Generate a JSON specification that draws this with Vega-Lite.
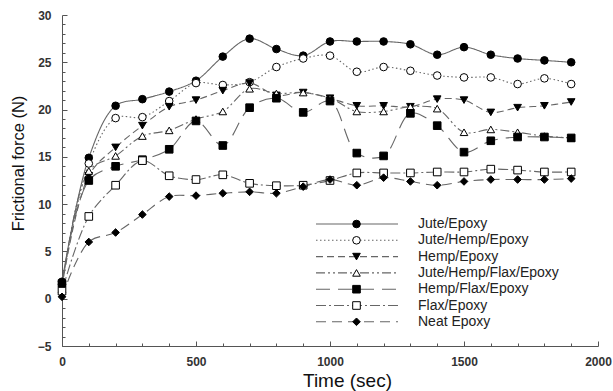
{
 "$schema": "https://vega.github.io/schema/vega-lite/v6.json",
 "width": 536, "height": 331,
 "autosize": "none",
 "padding": {"left": 62, "top": 15, "right": 15, "bottom": 45},
 "background": "white",
 "config": {"view": {"stroke": null}, "font": "Liberation Sans"},
 "datasets": {
  "raw": [
   {"s":"Jute/Epoxy","o":1,"t":0,"f":1.8},{"s":"Jute/Epoxy","o":1,"t":100,"f":14.9},{"s":"Jute/Epoxy","o":1,"t":200,"f":20.4},{"s":"Jute/Epoxy","o":1,"t":300,"f":21.1},{"s":"Jute/Epoxy","o":1,"t":400,"f":21.9},{"s":"Jute/Epoxy","o":1,"t":500,"f":23.05},{"s":"Jute/Epoxy","o":1,"t":600,"f":25.6},{"s":"Jute/Epoxy","o":1,"t":700,"f":27.5},{"s":"Jute/Epoxy","o":1,"t":800,"f":26.4},{"s":"Jute/Epoxy","o":1,"t":900,"f":25.7},{"s":"Jute/Epoxy","o":1,"t":1000,"f":27.2},{"s":"Jute/Epoxy","o":1,"t":1100,"f":27.2},{"s":"Jute/Epoxy","o":1,"t":1200,"f":27.2},{"s":"Jute/Epoxy","o":1,"t":1300,"f":26.9},{"s":"Jute/Epoxy","o":1,"t":1400,"f":25.8},{"s":"Jute/Epoxy","o":1,"t":1500,"f":26.6},{"s":"Jute/Epoxy","o":1,"t":1600,"f":25.8},{"s":"Jute/Epoxy","o":1,"t":1700,"f":25.4},{"s":"Jute/Epoxy","o":1,"t":1800,"f":25.2},{"s":"Jute/Epoxy","o":1,"t":1900,"f":25.0},
   {"s":"Jute/Hemp/Epoxy","o":2,"t":0,"f":1.5},{"s":"Jute/Hemp/Epoxy","o":2,"t":100,"f":14.3},{"s":"Jute/Hemp/Epoxy","o":2,"t":200,"f":19.1},{"s":"Jute/Hemp/Epoxy","o":2,"t":300,"f":19.2},{"s":"Jute/Hemp/Epoxy","o":2,"t":400,"f":20.9},{"s":"Jute/Hemp/Epoxy","o":2,"t":500,"f":22.8},{"s":"Jute/Hemp/Epoxy","o":2,"t":600,"f":22.6},{"s":"Jute/Hemp/Epoxy","o":2,"t":700,"f":22.9},{"s":"Jute/Hemp/Epoxy","o":2,"t":800,"f":24.5},{"s":"Jute/Hemp/Epoxy","o":2,"t":900,"f":25.4},{"s":"Jute/Hemp/Epoxy","o":2,"t":1000,"f":25.7},{"s":"Jute/Hemp/Epoxy","o":2,"t":1100,"f":24.0},{"s":"Jute/Hemp/Epoxy","o":2,"t":1200,"f":24.5},{"s":"Jute/Hemp/Epoxy","o":2,"t":1300,"f":24.1},{"s":"Jute/Hemp/Epoxy","o":2,"t":1400,"f":23.6},{"s":"Jute/Hemp/Epoxy","o":2,"t":1500,"f":23.4},{"s":"Jute/Hemp/Epoxy","o":2,"t":1600,"f":23.4},{"s":"Jute/Hemp/Epoxy","o":2,"t":1700,"f":22.7},{"s":"Jute/Hemp/Epoxy","o":2,"t":1800,"f":23.3},{"s":"Jute/Hemp/Epoxy","o":2,"t":1900,"f":22.7},
   {"s":"Hemp/Epoxy","o":3,"t":0,"f":1.3},{"s":"Hemp/Epoxy","o":3,"t":100,"f":13.0},{"s":"Hemp/Epoxy","o":3,"t":200,"f":16.0},{"s":"Hemp/Epoxy","o":3,"t":300,"f":18.3},{"s":"Hemp/Epoxy","o":3,"t":400,"f":20.3},{"s":"Hemp/Epoxy","o":3,"t":500,"f":21.0},{"s":"Hemp/Epoxy","o":3,"t":600,"f":22.0},{"s":"Hemp/Epoxy","o":3,"t":700,"f":22.8},{"s":"Hemp/Epoxy","o":3,"t":800,"f":21.5},{"s":"Hemp/Epoxy","o":3,"t":900,"f":21.8},{"s":"Hemp/Epoxy","o":3,"t":1000,"f":21.2},{"s":"Hemp/Epoxy","o":3,"t":1100,"f":20.4},{"s":"Hemp/Epoxy","o":3,"t":1200,"f":20.4},{"s":"Hemp/Epoxy","o":3,"t":1300,"f":20.3},{"s":"Hemp/Epoxy","o":3,"t":1400,"f":21.1},{"s":"Hemp/Epoxy","o":3,"t":1500,"f":21.0},{"s":"Hemp/Epoxy","o":3,"t":1600,"f":19.7},{"s":"Hemp/Epoxy","o":3,"t":1700,"f":20.2},{"s":"Hemp/Epoxy","o":3,"t":1800,"f":20.4},{"s":"Hemp/Epoxy","o":3,"t":1900,"f":20.8},
   {"s":"Jute/Hemp/Flax/Epoxy","o":4,"t":0,"f":1.0},{"s":"Jute/Hemp/Flax/Epoxy","o":4,"t":100,"f":13.5},{"s":"Jute/Hemp/Flax/Epoxy","o":4,"t":200,"f":15.1},{"s":"Jute/Hemp/Flax/Epoxy","o":4,"t":300,"f":17.2},{"s":"Jute/Hemp/Flax/Epoxy","o":4,"t":400,"f":17.8},{"s":"Jute/Hemp/Flax/Epoxy","o":4,"t":500,"f":19.0},{"s":"Jute/Hemp/Flax/Epoxy","o":4,"t":600,"f":19.8},{"s":"Jute/Hemp/Flax/Epoxy","o":4,"t":700,"f":22.2},{"s":"Jute/Hemp/Flax/Epoxy","o":4,"t":800,"f":21.7},{"s":"Jute/Hemp/Flax/Epoxy","o":4,"t":900,"f":21.8},{"s":"Jute/Hemp/Flax/Epoxy","o":4,"t":1000,"f":21.2},{"s":"Jute/Hemp/Flax/Epoxy","o":4,"t":1100,"f":19.8},{"s":"Jute/Hemp/Flax/Epoxy","o":4,"t":1200,"f":19.8},{"s":"Jute/Hemp/Flax/Epoxy","o":4,"t":1300,"f":20.3},{"s":"Jute/Hemp/Flax/Epoxy","o":4,"t":1400,"f":20.1},{"s":"Jute/Hemp/Flax/Epoxy","o":4,"t":1500,"f":17.6},{"s":"Jute/Hemp/Flax/Epoxy","o":4,"t":1600,"f":17.9},{"s":"Jute/Hemp/Flax/Epoxy","o":4,"t":1700,"f":17.6},{"s":"Jute/Hemp/Flax/Epoxy","o":4,"t":1800,"f":17.2},{"s":"Jute/Hemp/Flax/Epoxy","o":4,"t":1900,"f":17.0},
   {"s":"Hemp/Flax/Epoxy","o":5,"t":0,"f":1.6},{"s":"Hemp/Flax/Epoxy","o":5,"t":100,"f":12.5},{"s":"Hemp/Flax/Epoxy","o":5,"t":200,"f":14.0},{"s":"Hemp/Flax/Epoxy","o":5,"t":300,"f":14.7},{"s":"Hemp/Flax/Epoxy","o":5,"t":400,"f":15.8},{"s":"Hemp/Flax/Epoxy","o":5,"t":500,"f":18.8},{"s":"Hemp/Flax/Epoxy","o":5,"t":600,"f":16.2},{"s":"Hemp/Flax/Epoxy","o":5,"t":700,"f":20.2},{"s":"Hemp/Flax/Epoxy","o":5,"t":800,"f":21.2},{"s":"Hemp/Flax/Epoxy","o":5,"t":900,"f":19.7},{"s":"Hemp/Flax/Epoxy","o":5,"t":1000,"f":20.9},{"s":"Hemp/Flax/Epoxy","o":5,"t":1100,"f":15.4},{"s":"Hemp/Flax/Epoxy","o":5,"t":1200,"f":15.1},{"s":"Hemp/Flax/Epoxy","o":5,"t":1300,"f":19.6},{"s":"Hemp/Flax/Epoxy","o":5,"t":1400,"f":18.3},{"s":"Hemp/Flax/Epoxy","o":5,"t":1500,"f":15.5},{"s":"Hemp/Flax/Epoxy","o":5,"t":1600,"f":16.7},{"s":"Hemp/Flax/Epoxy","o":5,"t":1700,"f":17.1},{"s":"Hemp/Flax/Epoxy","o":5,"t":1800,"f":17.1},{"s":"Hemp/Flax/Epoxy","o":5,"t":1900,"f":17.0},
   {"s":"Flax/Epoxy","o":6,"t":0,"f":0.8},{"s":"Flax/Epoxy","o":6,"t":100,"f":8.7},{"s":"Flax/Epoxy","o":6,"t":200,"f":12.0},{"s":"Flax/Epoxy","o":6,"t":300,"f":14.6},{"s":"Flax/Epoxy","o":6,"t":400,"f":13.0},{"s":"Flax/Epoxy","o":6,"t":500,"f":12.6},{"s":"Flax/Epoxy","o":6,"t":600,"f":13.1},{"s":"Flax/Epoxy","o":6,"t":700,"f":12.2},{"s":"Flax/Epoxy","o":6,"t":800,"f":11.95},{"s":"Flax/Epoxy","o":6,"t":900,"f":12.0},{"s":"Flax/Epoxy","o":6,"t":1000,"f":12.5},{"s":"Flax/Epoxy","o":6,"t":1100,"f":13.3},{"s":"Flax/Epoxy","o":6,"t":1200,"f":13.3},{"s":"Flax/Epoxy","o":6,"t":1300,"f":13.3},{"s":"Flax/Epoxy","o":6,"t":1400,"f":13.4},{"s":"Flax/Epoxy","o":6,"t":1500,"f":13.4},{"s":"Flax/Epoxy","o":6,"t":1600,"f":13.7},{"s":"Flax/Epoxy","o":6,"t":1700,"f":13.6},{"s":"Flax/Epoxy","o":6,"t":1800,"f":13.4},{"s":"Flax/Epoxy","o":6,"t":1900,"f":13.4},
   {"s":"Neat Epoxy","o":7,"t":0,"f":0.2},{"s":"Neat Epoxy","o":7,"t":100,"f":6.0},{"s":"Neat Epoxy","o":7,"t":200,"f":7.0},{"s":"Neat Epoxy","o":7,"t":300,"f":8.9},{"s":"Neat Epoxy","o":7,"t":400,"f":10.8},{"s":"Neat Epoxy","o":7,"t":500,"f":10.9},{"s":"Neat Epoxy","o":7,"t":600,"f":11.15},{"s":"Neat Epoxy","o":7,"t":700,"f":11.3},{"s":"Neat Epoxy","o":7,"t":800,"f":11.15},{"s":"Neat Epoxy","o":7,"t":900,"f":11.85},{"s":"Neat Epoxy","o":7,"t":1000,"f":12.6},{"s":"Neat Epoxy","o":7,"t":1100,"f":12.0},{"s":"Neat Epoxy","o":7,"t":1200,"f":12.8},{"s":"Neat Epoxy","o":7,"t":1300,"f":12.4},{"s":"Neat Epoxy","o":7,"t":1400,"f":12.0},{"s":"Neat Epoxy","o":7,"t":1500,"f":12.4},{"s":"Neat Epoxy","o":7,"t":1600,"f":12.6},{"s":"Neat Epoxy","o":7,"t":1700,"f":12.6},{"s":"Neat Epoxy","o":7,"t":1800,"f":12.6},{"s":"Neat Epoxy","o":7,"t":1900,"f":12.7}
  ]
 },
 "data": {"name": "raw"},
 "encoding": {
  "x": {"field": "t", "type": "quantitative",
   "scale": {"domain": [0, 2000], "nice": false, "zero": false},
   "axis": {"values": [0,100,200,300,400,500,600,700,800,900,1000,1100,1200,1300,1400,1500,1600,1700,1800,1900,2000],
    "format": "d", "labelExpr": "datum.value % 500 === 0 ? datum.label : ''",
    "grid": false, "domainColor": "#555", "tickColor": "#555", "domainWidth": 1, "tickWidth": 1,
    "tickSize": {"condition": {"test": "datum.value % 500 === 0", "value": -5}, "value": -3},
    "labelFontSize": 12, "labelFontWeight": "bold", "labelColor": "#333", "labelPadding": 15,
    "labelFlush": false, "labelOverlap": false,
    "title": "Time (sec)", "titleFontSize": 19, "titleFontWeight": "normal", "titleColor": "#111",
    "titleX": 285, "titleY": 34, "titleBaseline": "middle", "titleAnchor": null}},
  "y": {"field": "f", "type": "quantitative",
   "scale": {"domain": [-5, 30], "nice": false, "zero": false},
   "axis": {"values": [-5,-4,-3,-2,-1,0,1,2,3,4,5,6,7,8,9,10,11,12,13,14,15,16,17,18,19,20,21,22,23,24,25,26,27,28,29,30],
    "format": "d", "labelExpr": "datum.value % 5 === 0 ? datum.label : ''",
    "grid": false, "domainColor": "#555", "tickColor": "#555", "domainWidth": 1, "tickWidth": 1,
    "tickSize": {"condition": {"test": "datum.value % 5 === 0", "value": -5}, "value": -3},
    "labelFontSize": 12, "labelFontWeight": "bold", "labelColor": "#333", "labelPadding": 16,
    "labelFlush": false, "labelOverlap": false,
    "title": "Frictional force (N)", "titleFontSize": 16.5, "titleFontWeight": "normal", "titleColor": "#111",
    "titleX": -44, "titleY": 148, "titleBaseline": "middle", "titleAngle": -90}}
 },
 "layer": [
  {"mark": {"type": "line", "interpolate": "catmull-rom", "color": "#666", "strokeWidth": 1.1},
   "encoding": {
    "strokeDash": {"field": "s", "type": "nominal", "sort": {"field": "o", "op": "min"},
     "scale": {"range": [[1,0],[1.5,2.5],[7,4],[9,3,2,3,2,3],[14,8],[10,3,2,3],[10,6]]},
     "legend": {"orient": "none", "legendX": 253, "legendY": 201, "title": null, "symbolType": "stroke",
      "symbolSize": 6724, "symbolStrokeColor": "#666", "symbolStrokeWidth": 1.1, "clipHeight": 16, "rowPadding": 0.3,
      "labelFontSize": 14, "labelColor": "#222", "labelOffset": 19, "padding": 0, "labelLimit": 300}}
   }},
  {"mark": {"type": "point", "filled": false, "strokeWidth": 1, "size": 58, "opacity": 1},
   "encoding": {
    "shape": {"field": "s", "type": "nominal",
     "scale": {"domain": ["Jute/Epoxy","Jute/Hemp/Epoxy","Hemp/Epoxy","Jute/Hemp/Flax/Epoxy","Hemp/Flax/Epoxy","Flax/Epoxy","Neat Epoxy"],
      "range": ["circle","circle","triangle-down","triangle-up","square","square","diamond"]},
     "legend": {"orient": "none", "legendX": 253, "legendY": 201, "title": null, "clipHeight": 16, "rowPadding": 0.3,
      "labelFontSize": 14, "labelExpr": "''", "symbolOffset": 34.5, "symbolSize": 58,
      "symbolStrokeWidth": 1, "padding": 0}},
    "fill": {"field": "s", "type": "nominal",
     "scale": {"domain": ["Jute/Epoxy","Jute/Hemp/Epoxy","Hemp/Epoxy","Jute/Hemp/Flax/Epoxy","Hemp/Flax/Epoxy","Flax/Epoxy","Neat Epoxy"],
      "range": ["black","white","black","white","black","white","black"]},
     "legend": {"orient": "none", "legendX": 253, "legendY": 201, "title": null, "clipHeight": 16, "rowPadding": 0.3,
      "labelFontSize": 14, "labelExpr": "''", "symbolOffset": 34.5, "symbolSize": 58,
      "symbolStrokeWidth": 1, "padding": 0}},
    "stroke": {"field": "s", "type": "nominal",
     "scale": {"domain": ["Jute/Epoxy","Jute/Hemp/Epoxy","Hemp/Epoxy","Jute/Hemp/Flax/Epoxy","Hemp/Flax/Epoxy","Flax/Epoxy","Neat Epoxy"],
      "range": ["black","black","black","black","black","black","black"]},
     "legend": {"orient": "none", "legendX": 253, "legendY": 201, "title": null, "clipHeight": 16, "rowPadding": 0.3,
      "labelFontSize": 14, "labelExpr": "''", "symbolOffset": 34.5, "symbolSize": 58,
      "symbolStrokeWidth": 1, "padding": 0}}
   }}
 ]
}
